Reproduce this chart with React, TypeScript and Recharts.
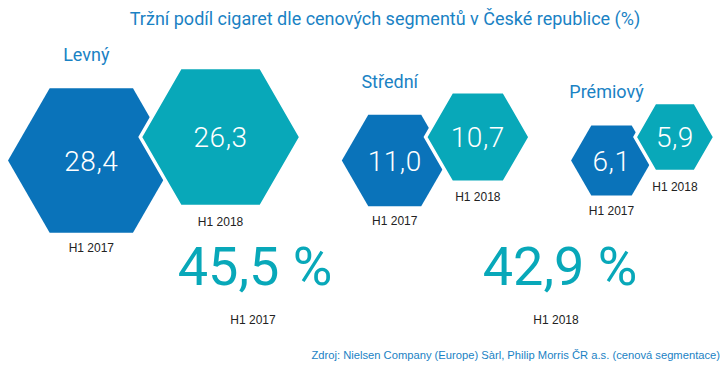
import { ScatterChart, Scatter, XAxis, YAxis, ZAxis } from "recharts";

// market share of cigarettes by price segment, Czech Republic (%)
const segments = ["Levný", "Střední", "Prémiový"];
const shareH12017 = [28.4, 11.0, 6.1];
const shareH12018 = [26.3, 10.7, 5.9];
const periods = ["H1 2017", "H1 2018"];
const periodYears = [2017, 2018];
const totalShare = [45.5, 42.9];

const W = 726;
const H = 366;
const DARK = "#0a73ba";
const TEAL = "#08a8b9";
const BLUE_TEXT = "#1a82c4";

// hexagon area grows linearly with value (ZAxis area scale)
const Z_MAX = 30;
const AREA_MIN = 183 * Math.PI;
const AREA_MAX = (183 + 238 * Z_MAX) * Math.PI;
const OVERLAP = 0.79;
const GAP = 41;
const START_X = 8;

const rad = (v: number) =>
  Math.sqrt((AREA_MIN + ((AREA_MAX - AREA_MIN) * v) / Z_MAX) / Math.PI);

// pack the segment groups left to right from their sizes
const groupX: { a: number; b: number }[] = [];
{
  let cursor = START_X;
  segments.forEach((_, i) => {
    const r1 = rad(shareH12017[i]);
    const r2 = rad(shareH12018[i]);
    const a = cursor + r1;
    const b = a + OVERLAP * (r1 + r2);
    groupX.push({ a, b });
    cursor = b + r2 + GAP;
  });
}

// year -> vertical offset of the hexagon rows
const ROW_PX = 23.5;
const BASE_Y = 160.5;
const yDomain = [
  periodYears[0] - (H - BASE_Y) / ROW_PX,
  periodYears[0] + BASE_Y / ROW_PX,
];

const data2017 = segments.map((s, i) => ({
  segment: s,
  value: shareH12017[i],
  year: periodYears[0],
  x: groupX[i].a,
}));
const data2018 = segments.map((s, i) => ({
  segment: s,
  value: shareH12018[i],
  year: periodYears[1],
  x: groupX[i].b,
}));

const fmt = (v: number) => v.toFixed(1).replace(".", ",");

function Hexagon(props: any) {
  const { cx, cy, width, payload, color, stroke, period, showSegment } = props;
  const r = width / 2;
  const h = (r * Math.sqrt(3)) / 2;
  const pts = [
    [cx + r, cy],
    [cx + r / 2, cy - h],
    [cx - r / 2, cy - h],
    [cx - r, cy],
    [cx - r / 2, cy + h],
    [cx + r / 2, cy + h],
  ]
    .map((p) => p.join(","))
    .join(" ");
  return (
    <g>
      <polygon
        points={pts}
        fill={color}
        stroke={stroke ? "#fff" : "none"}
        strokeWidth={3.5}
      />
      <text
        x={cx}
        y={cy + 10}
        textAnchor="middle"
        fill="#fff"
        fontFamily="Roboto"
        fontWeight={300}
        fontSize={28}
        letterSpacing={0.5}
      >
        {fmt(payload.value)}
      </text>
      <text
        x={cx}
        y={cy + h + 19}
        textAnchor="middle"
        fill="#222"
        fontFamily="Liberation Sans, Arial"
        fontSize={12}
      >
        {period}
      </text>
      {showSegment && (
        <text
          x={cx - 5}
          y={cy - h - 27}
          textAnchor="middle"
          fill={BLUE_TEXT}
          fontFamily="Roboto"
          fontSize={18}
        >
          {payload.segment}
        </text>
      )}
    </g>
  );
}

export default function App() {
  return (
    <div
      style={{
        position: "absolute",
        left: 0,
        top: 0,
        width: W,
        height: H,
        background: "#fff",
      }}
    >
      <ScatterChart
        width={W}
        height={H}
        margin={{ top: 0, right: 0, bottom: 0, left: 0 }}
      >
        <XAxis type="number" dataKey="x" domain={[0, W]} hide />
        <YAxis type="number" dataKey="year" domain={yDomain} hide />
        <ZAxis
          type="number"
          dataKey="value"
          domain={[0, Z_MAX]}
          range={[AREA_MIN, AREA_MAX]}
        />
        <Scatter
          name={periods[0]}
          data={data2017}
          isAnimationActive={false}
          shape={(p: any) => (
            <Hexagon {...p} color={DARK} period={periods[0]} showSegment />
          )}
        />
        <Scatter
          name={periods[1]}
          data={data2018}
          isAnimationActive={false}
          shape={(p: any) => (
            <Hexagon {...p} color={TEAL} stroke period={periods[1]} />
          )}
        />
      </ScatterChart>
      <svg
        width={W}
        height={H}
        style={{ position: "absolute", left: 0, top: 0, pointerEvents: "none" }}
      >
        <text
          x={385}
          y={25}
          textAnchor="middle"
          fill={BLUE_TEXT}
          fontFamily="Roboto"
          fontSize={18}
        >
          Tržní podíl cigaret dle cenových segmentů v České republice (%)
        </text>
        {totalShare.map((t, i) => (
          <g key={i}>
            <text
              x={i === 0 ? 255 : 560}
              y={285}
              textAnchor="middle"
              fill={TEAL}
              fontFamily="Roboto"
              fontSize={54}
            >
              {fmt(t) + " %"}
            </text>
            <text
              x={i === 0 ? 253 : 556}
              y={324}
              textAnchor="middle"
              fill="#222"
              fontFamily="Liberation Sans, Arial"
              fontSize={12}
            >
              {periods[i]}
            </text>
          </g>
        ))}
        <text
          x={720}
          y={359}
          textAnchor="end"
          fill={BLUE_TEXT}
          fontFamily="Liberation Sans, Arial"
          fontSize={11.2}
        >
          Zdroj: Nielsen Company (Europe) Sàrl, Philip Morris ČR a.s. (cenová segmentace)
        </text>
      </svg>
    </div>
  );
}
